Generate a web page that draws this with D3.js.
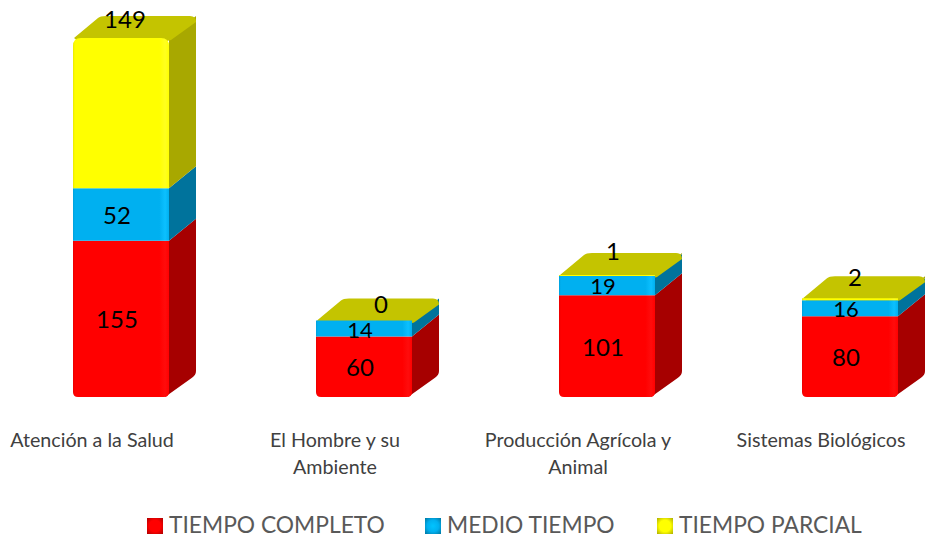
<!DOCTYPE html>
<html>
<head>
<meta charset="utf-8">
<script src="https://cdn.jsdelivr.net/npm/d3@7"></script>
<style>
	html, body { margin: 0; padding: 0; background: #fff; }
	svg { display: block; }
	text { font-family: Lato, "Open Sans", sans-serif; }
	.cat { font-size: 19.7px; fill: #404040; }
	.val { font-size: 24px; fill: #000; text-anchor: middle; dominant-baseline: central; }
	.val.small { font-size: 22px; }
	.leg { font-size: 22.8px; fill: #595959; }
</style>
</head>
<body>
<svg id="chart" width="925" height="542"></svg>
<script>
const categories = [['Atención a la Salud'], ['El Hombre y su', 'Ambiente'], ['Producción Agrícola y', 'Animal'], ['Sistemas Biológicos']];
const seriesNames = ['TIEMPO COMPLETO', 'MEDIO TIEMPO', 'TIEMPO PARCIAL'];
const tiempoCompleto = [155, 60, 101, 80];
const medioTiempo = [52, 14, 19, 16];
const tiempoParcial = [149, 0, 1, 2];

const front = ['#ff0000', '#00b0f0', '#ffff00'];
const side = ['#a60000', '#00739c', '#a8a800'];
const topFace = '#c4c400';
const bright = ['#ff0c0c', '#0cc0ff', '#ffff20'];

const barW = 96;
const depthX = 27;
const depthY = 22;

// the 3 top labels were dragged by hand in the original
const topLabelNudge = [[4, -20], [17, -19], [6, -24], [5, -22]];

const svg = d3.select('#chart');
const defs = svg.append('defs');

const keys = categories.map((c, i) => i);
const rows = keys.map(i => ({ i, s0: tiempoCompleto[i], s1: medioTiempo[i], s2: tiempoParcial[i] }));
const stacked = d3.stack().keys(['s0', 's1', 's2'])(rows);

const x = d3.scalePoint().domain(keys).range([121, 850]);
const y = d3.scaleLinear().domain([0, 356]).range([397, 38]);

front.forEach((c, i) => {
	const g = defs.append('linearGradient').attr('id', `face${i}`);
	[[0, d3.color(c).darker(0.25)], [0.02, c], [0.9, c], [0.96, bright[i]], [1, c]]
		.forEach(([o, col]) => g.append('stop').attr('offset', o).attr('stop-color', col));

	const r = defs.append('radialGradient').attr('id', `swatch${i}`).attr('r', 0.72);
	[[0, d3.color(c).brighter(0.3)], [0.5, c], [1, side[i]]]
		.forEach(([o, col]) => r.append('stop').attr('offset', o).attr('stop-color', col));
});

function frontPath(x0, x1, y0, y1, rTop, rBottom) {
	const p = d3.path();
	p.moveTo(x0 + rTop, y1);
	p.lineTo(x1 - rTop, y1);
	p.quadraticCurveTo(x1, y1, x1, y1 + rTop);
	p.lineTo(x1, y0 - rBottom);
	p.quadraticCurveTo(x1, y0, x1 - rBottom, y0);
	p.lineTo(x0 + rBottom, y0);
	p.quadraticCurveTo(x0, y0, x0, y0 - rBottom);
	p.lineTo(x0, y1 + rTop);
	p.quadraticCurveTo(x0, y1, x0 + rTop, y1);
	p.closePath();
	return p.toString();
}

function sidePath(x1, y0, y1, rBottom) {
	const p = d3.path();
	p.moveTo(x1, y1);
	p.lineTo(x1 + depthX, y1 - depthY);
	p.lineTo(x1 + depthX, y0 - depthY - rBottom);
	p.quadraticCurveTo(x1 + depthX, y0 - depthY, x1 + depthX - rBottom, y0 - depthY + rBottom * 0.7);
	p.lineTo(x1 - rBottom, y0);
	p.closePath();
	return p.toString();
}

function topPath(x0, x1, yTop) {
	const r = 6;
	const p = d3.path();
	p.moveTo(x0 + 1, yTop);
	p.lineTo(x0 + depthX - 2, yTop - depthY + 2);
	p.quadraticCurveTo(x0 + depthX, yTop - depthY, x0 + depthX + r, yTop - depthY);
	p.lineTo(x1 + depthX - r, yTop - depthY);
	p.quadraticCurveTo(x1 + depthX, yTop - depthY, x1 + depthX, yTop - depthY + r);
	p.lineTo(x1 + 2, yTop + 2);
	p.lineTo(x1 - 6, yTop + 4);
	p.lineTo(x0 + 6, yTop + 4);
	p.closePath();
	return p.toString();
}

const bars = svg.append('g');

keys.forEach(k => {
	const x0 = x(k) - barW / 2;
	const x1 = x(k) + barW / 2;
	const g = bars.append('g');
	// an empty top segment still shows its bevel on top of the stack
	const lift = tiempoParcial[k] === 0 ? 2 : 0;
	const topSeg = lift ? 1 : 2;
	const stackTop = y(stacked[2][k][1]) - lift;

	stacked.forEach((s, si) => {
		const yb = y(s[k][0]);
		const yt = si === topSeg ? stackTop : y(s[k][1]);
		if (yb - yt <= 0) return;
		g.append('path').attr('d', sidePath(x1, yb, yt, si === 0 ? 4 : 0)).attr('fill', side[si]);
	});

	g.append('path').attr('d', topPath(x0, x1, stackTop)).attr('fill', topFace);

	stacked.forEach((s, si) => {
		const yb = y(s[k][0]);
		const yt = si === topSeg ? stackTop : y(s[k][1]);
		if (yb - yt <= 0) return;
		const big = yb - yt > 30;
		g.append('path')
			.attr('d', frontPath(x0, x1, yb, yt, si === 2 && big ? 8 : 0, si === 0 ? 5 : 0))
			.attr('fill', `url(#face${si})`);
	});
});

// value labels
const labels = svg.append('g');
keys.forEach(k => {
	[0, 1].forEach(si => {
		const s = stacked[si][k];
		labels.append('text')
			.attr('class', s[1] - s[0] < 30 ? 'val small' : 'val')
			.attr('x', x(k) - 4)
			.attr('y', (y(s[0]) + y(s[1])) / 2)
			.text(s[1] - s[0]);
	});
	labels.append('text')
		.attr('class', 'val')
		.attr('x', x(k) + topLabelNudge[k][0])
		.attr('y', y(stacked[2][k][1]) + topLabelNudge[k][1])
		.text(tiempoParcial[k]);
});

// category labels
categories.forEach((lines, k) => {
	const t = svg.append('text').attr('class', 'cat').attr('text-anchor', 'middle');
	lines.forEach((line, j) => {
		t.append('tspan')
			.attr('x', x(k) - 29)
			.attr('y', 447 + j * 27)
			.text(line);
	});
});

// legend
const legendX = [147, 425, 657];
seriesNames.forEach((name, i) => {
	svg.append('rect')
		.attr('x', legendX[i]).attr('y', 518)
		.attr('width', 16).attr('height', 16)
		.attr('fill', `url(#swatch${i})`);
	svg.append('text')
		.attr('class', 'leg')
		.attr('x', legendX[i] + 22)
		.attr('y', 533)
		.text(name);
});
</script>
</body>
</html>
